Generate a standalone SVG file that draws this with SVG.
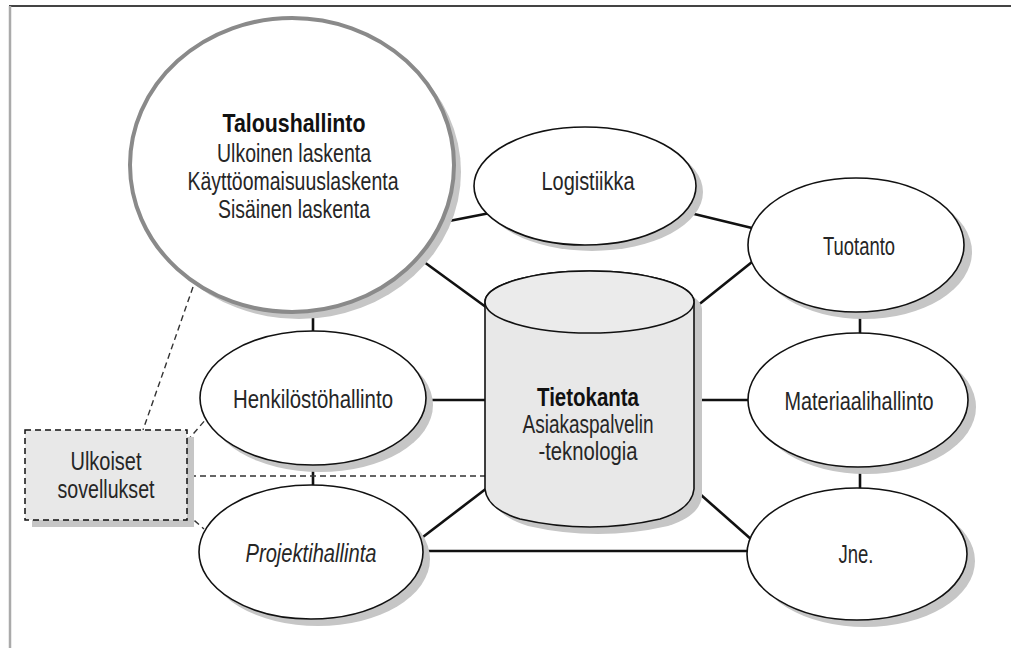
<svg xmlns="http://www.w3.org/2000/svg" width="1011" height="648" viewBox="0 0 1011 648">
<defs>
<style>
.t{font-family:"Liberation Sans",Arial,sans-serif;font-size:25px;fill:#262626;text-anchor:middle}
.b{font-weight:bold;fill:#111}
.i{font-style:italic}
.shadow{fill:#c6c6c6}
.node{fill:#fff;stroke:#111;stroke-width:1.6}
.conn{stroke:#111;stroke-width:2.6;fill:none}
.dash{stroke:#333;stroke-width:1.4;stroke-dasharray:6 4;fill:none}
</style>
</defs>
<rect x="0" y="0" width="1011" height="648" fill="#fff"/>
<line x1="9" y1="6" x2="1011" y2="6" stroke="#444" stroke-width="2"/>
<line x1="10" y1="6" x2="10" y2="648" stroke="#aaa" stroke-width="2.5"/>

<g id="connectors">
<line class="conn" x1="444" y1="222" x2="490" y2="213"/>
<line class="conn" x1="420" y1="259" x2="490" y2="310"/>
<line class="conn" x1="313" y1="308" x2="313" y2="333"/>
<line class="conn" x1="424" y1="400" x2="487" y2="400"/>
<line class="conn" x1="313" y1="463" x2="313" y2="487"/>
<line class="conn" x1="419" y1="540" x2="487" y2="488"/>
<line class="conn" x1="421" y1="551" x2="749" y2="551"/>
<line class="conn" x1="692" y1="400" x2="750" y2="400"/>
<line class="conn" x1="692" y1="487" x2="752" y2="540"/>
<line class="conn" x1="692" y1="310" x2="752" y2="262"/>
<line class="conn" x1="686" y1="212" x2="752" y2="228"/>
<line class="conn" x1="860" y1="310" x2="860" y2="335"/>
<line class="conn" x1="860" y1="465" x2="860" y2="490"/>
<line class="dash" x1="193" y1="287" x2="143" y2="430"/>
<line class="dash" x1="187" y1="441" x2="207" y2="418"/>
<line class="dash" x1="190" y1="476" x2="486" y2="476"/>
<line class="dash" x1="187" y1="514" x2="204" y2="529"/>
</g>

<g id="taloushallinto">
<ellipse class="shadow" cx="299" cy="172" rx="162" ry="147"/>
<ellipse cx="292" cy="165" rx="162" ry="147" fill="#fff" stroke="#8a8a8a" stroke-width="4"/>
<text class="t b" x="294" y="132" textLength="143" lengthAdjust="spacingAndGlyphs">Taloushallinto</text>
<text class="t" x="294" y="162" textLength="154" lengthAdjust="spacingAndGlyphs">Ulkoinen laskenta</text>
<text class="t" x="293" y="190" textLength="211" lengthAdjust="spacingAndGlyphs">Käyttöomaisuuslaskenta</text>
<text class="t" x="294" y="218" textLength="152" lengthAdjust="spacingAndGlyphs">Sisäinen laskenta</text>
</g>

<g id="logistiikka">
<ellipse class="shadow" cx="592" cy="192" rx="111" ry="59"/>
<ellipse class="node" cx="585" cy="186" rx="111" ry="59"/>
<text class="t" x="588" y="190" textLength="93" lengthAdjust="spacingAndGlyphs">Logistiikka</text>
</g>

<g id="tuotanto">
<ellipse class="shadow" cx="864" cy="252" rx="108" ry="67"/>
<ellipse class="node" cx="856" cy="245" rx="108" ry="67"/>
<text class="t" x="859" y="255" textLength="72" lengthAdjust="spacingAndGlyphs">Tuotanto</text>
</g>

<g id="materiaalihallinto">
<ellipse class="shadow" cx="866" cy="407" rx="110" ry="67"/>
<ellipse class="node" cx="858" cy="400" rx="110" ry="67"/>
<text class="t" x="859" y="410" textLength="149" lengthAdjust="spacingAndGlyphs">Materiaalihallinto</text>
</g>

<g id="jne">
<ellipse class="shadow" cx="865" cy="561" rx="110" ry="66"/>
<ellipse class="node" cx="857" cy="554" rx="110" ry="66"/>
<text class="t" x="856" y="563" textLength="35" lengthAdjust="spacingAndGlyphs">Jne.</text>
</g>

<g id="henkilostohallinto">
<ellipse class="shadow" cx="320" cy="405" rx="113" ry="67"/>
<ellipse class="node" cx="313" cy="398" rx="113" ry="67"/>
<text class="t" x="313" y="408" textLength="160" lengthAdjust="spacingAndGlyphs">Henkilöstöhallinto</text>
</g>

<g id="projektihallinta">
<ellipse class="shadow" cx="318" cy="559" rx="112" ry="67"/>
<ellipse class="node" cx="311" cy="552" rx="112" ry="67"/>
<text class="t i" x="311" y="562" textLength="131" lengthAdjust="spacingAndGlyphs">Projektihallinta</text>
</g>

<g id="tietokanta">
<path class="shadow" d="M493,309 L493,496 Q495,516 528,526 Q598,542 668,526 Q700,516 702,496 L702,309 A104.5,31 0 0 0 493,309 Z"/>
<path d="M485,302 L485,489 Q487,509 520,519 Q590,535 660,519 Q692,509 694,489 L694,302 A104.5,31 0 0 0 485,302 Z" fill="#e8e8e8" stroke="#111" stroke-width="1.6"/>
<ellipse cx="589.5" cy="302" rx="104.5" ry="31" fill="#ebebeb" stroke="#111" stroke-width="1.6"/>
<text class="t b" x="588" y="406" textLength="102" lengthAdjust="spacingAndGlyphs">Tietokanta</text>
<text class="t" x="588" y="433" textLength="131" lengthAdjust="spacingAndGlyphs">Asiakaspalvelin</text>
<text class="t" x="588" y="460" textLength="99" lengthAdjust="spacingAndGlyphs">-teknologia</text>
</g>

<g id="ulkoiset">
<rect class="shadow" x="32" y="437" width="162" height="90"/>
<rect x="25" y="430" width="162" height="90" fill="#e8e8e8" stroke="#111" stroke-width="1.5" stroke-dasharray="6 4"/>
<text class="t" x="106" y="470" textLength="71" lengthAdjust="spacingAndGlyphs">Ulkoiset</text>
<text class="t" x="106" y="498" textLength="97" lengthAdjust="spacingAndGlyphs">sovellukset</text>
</g>
</svg>
